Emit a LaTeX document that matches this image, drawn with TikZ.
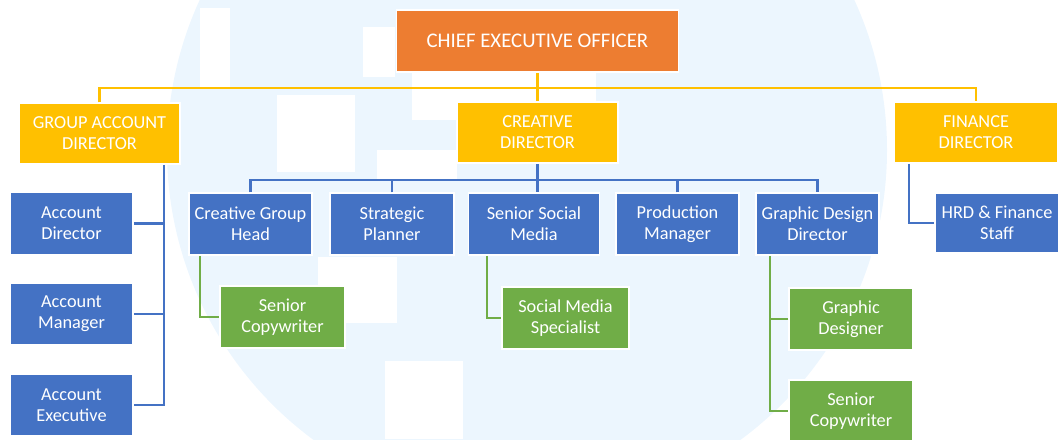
\documentclass[tikz,border=0pt]{standalone}
\usepackage{fontspec}
\setmainfont{Carlito}
\usetikzlibrary{positioning}

\definecolor{ceoorange}{HTML}{ED7D31}
\definecolor{headyellow}{HTML}{FFC000}
\definecolor{staffblue}{HTML}{4472C4}
\definecolor{juniorgreen}{HTML}{70AD47}
\definecolor{wmblue}{HTML}{ECF6FE}

\tikzset{
  box/.style={draw=white, line width=1.5pt, text=white, align=center, inner sep=0pt,
    minimum width=123pt, minimum height=62pt, font=\fontsize{18.3}{21}\selectfont},
  ceobox/.style={box, fill=ceoorange, font=\fontsize{20.8}{24}\selectfont},
  headbox/.style={box, fill=headyellow, minimum width=161pt, minimum height=61pt},
  staffbox/.style={box, fill=staffblue},
  juniorbox/.style={box, fill=juniorgreen, minimum width=125pt},
  yline/.style={draw=headyellow, line width=2.5pt},
  bline/.style={draw=staffblue, line width=2.5pt},
  gline/.style={draw=juniorgreen, line width=2.5pt},
}

\begin{document}
\begin{tikzpicture}[x=1pt, y=-1pt]
        \useasboundingbox (0,0) rectangle (1059,439);

        % faint watermark behind the chart
        \begin{scope}
            \clip (0,0) rectangle (1059,439);
            \fill[wmblue] (527,150) circle (360);
            \fill[white] (200,8) rectangle (230,87);
            \fill[white] (363,27) rectangle (395,77);
            \fill[white] (277,95) rectangle (355,172);
            \fill[white] (412,73) rectangle (596,102);
            \fill[white] (412,73) rectangle (457,120);
            \fill[white] (377,150) rectangle (457,180);
            \fill[white] (318,257) rectangle (397,323);
            \fill[white] (385,361) rectangle (463,439);
        \end{scope}

        % top
        \node[ceobox, minimum width=282pt] (ceo) at (537.5,41) {CHIEF EXECUTIVE OFFICER};

        % directors
        \node[headbox] (gad) at (99.5,133.5) {GROUP ACCOUNT\\DIRECTOR};
        \node[headbox] (cd) at (537.5,132.5) {CREATIVE\\DIRECTOR};
        \node[headbox, minimum width=164pt] (fd) at (976,132.5) {FINANCE\\DIRECTOR};

        % account side
        \node[staffbox] (ad) at (71.5,223.5) {Account\\Director};
        \node[staffbox] (am) at (71.5,314) {Account\\Manager};
        \node[staffbox] (ae) at (71.5,405) {Account\\Executive};

        % creative side
        \node[staffbox] (cgh) at (250.5,224) {Creative Group\\Head};
        \node[staffbox, minimum width=124pt] (sp) at (392,224) {Strategic\\Planner};
        \node[staffbox, minimum width=131pt] (ssm) at (534,224) {Senior Social\\Media};
        \node[staffbox] (pm) at (677.5,224) {Production\\Manager};
        \node[staffbox] (gdd) at (817.5,224) {Graphic Design\\Director};

        % finance side
        \node[staffbox, minimum width=124pt, minimum height=60pt] (hrd) at (997,223) {HRD \& Finance\\Staff};

        % juniors
        \node[juniorbox] (sc1) at (282.5,317) {Senior\\Copywriter};
        \node[juniorbox, minimum width=127pt] (sms) at (565.5,318) {Social Media\\Specialist};
        \node[juniorbox, minimum width=124pt] (gd) at (851,319) {Graphic\\Designer};
        \node[juniorbox, minimum width=124pt] (sc2) at (851,411) {Senior\\Copywriter};

        % yellow links
        \coordinate (ybus) at (537.5,88);
        \draw[yline] (ceo) -- (cd);
        \draw[yline] (gad.north) |- (ybus) -| (fd.north);

        % blue links
        \coordinate (cbus) at (537.5,180);
        \coordinate (gx) at (164,0);
        \coordinate (fx) at (909,0);
        \draw[bline] (cgh.north) |- (cbus) -| (gdd.north);
        \draw[bline] (cd.south) -- (cd.south |- ssm.north);
        \draw[bline] (sp.north) -- (sp.north |- cbus);
        \draw[bline] (pm.north) -- (pm.north |- cbus);
        \draw[bline] (gad.south -| gx) |- (ae.east);
        \draw[bline] (ad.east) -- (ad.east -| gx);
        \draw[bline] (am.east) -- (am.east -| gx);
        \draw[bline] (fd.south -| fx) |- (hrd.west);

        % green links
        \coordinate (g1) at (200,0);
        \coordinate (g2) at (487,0);
        \coordinate (g3) at (770,0);
        \draw[gline] (cgh.south -| g1) |- (sc1.west);
        \draw[gline] (ssm.south -| g2) |- (sms.west);
        \draw[gline] (gdd.south -| g3) |- (sc2.west);
        \draw[gline] (gd.west) -- (gd.west -| g3);
    \end{tikzpicture}
\end{document}
